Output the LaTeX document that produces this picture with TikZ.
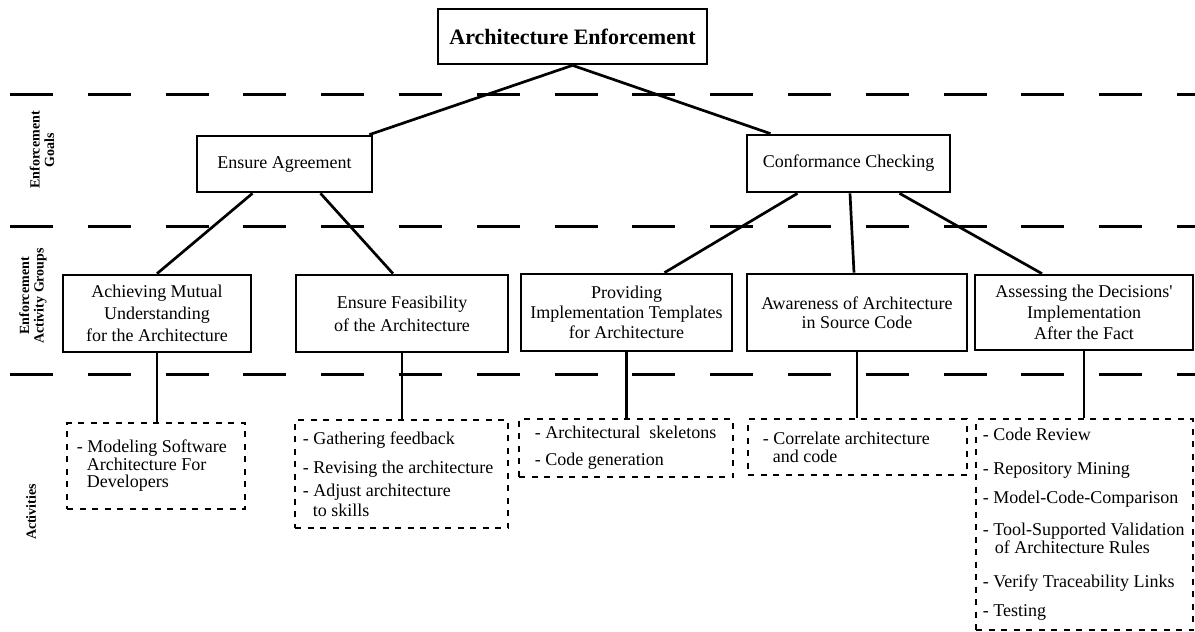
\documentclass[tikz,border=0pt]{standalone}
\usepackage{fontspec}
\setmainfont{Liberation Serif}
\newfontfamily\plainserif{Liberation Serif}
\begin{document}
\begin{tikzpicture}[x=1pt,y=-1pt,
  conn/.style={line width=2.7pt},
  levelsep/.style={line width=3pt, dash pattern=on 43pt off 34.8pt},
  box/.style={draw, line width=2.7pt, align=center, inner sep=0pt,
    font=\fontsize{18}{20}\selectfont},
  actbox/.style={draw, line width=2.7pt, dash pattern=on 6pt off 6.5pt, inner sep=0pt},
  acttext/.style={align=left, inner sep=0pt, anchor=west},
  rowlabel/.style={rotate=90, align=center, inner sep=0pt,
    font=\bfseries\fontsize{14}{14.5}\selectfont}
]
\useasboundingbox (0,0) rectangle (1195,632);

% level separators
\draw[levelsep] (10,94) -- (1195,94);
\draw[levelsep] (10,226) -- (1195,226);
\draw[levelsep] (10,374) -- (1195,374);

% row labels
\node[rowlabel] (lgoals) at (42,150) {Enforcement\\Goals};
\node[rowlabel] (lgroups) at (33,296) {Enforcement\\Activity Groups};
\node[rowlabel] (lact) at (31,512) {Activities};

% root
\node[box, minimum width=269, minimum height=55,
  font=\bfseries\fontsize{22}{24}\selectfont] (top) at (572.5,36.5) {Architecture Enforcement};

% goals
\node[box, minimum width=175, minimum height=56] (ea) at (284.5,164) {Ensure Agreement};
\node[box, minimum width=203, minimum height=57] (cc) at (848.5,163.5) {Conformance Checking};

% activity groups
\node[box, minimum width=188, minimum height=77, font=\fontsize{18}{22}\selectfont] (am) at (157,313.5)
  {Achieving Mutual\\Understanding\\for the Architecture};
\node[box, minimum width=212, minimum height=77, font=\fontsize{18}{23}\selectfont] (ef) at (402,313.5)
  {Ensure Feasibility\\of the Architecture};
\node[box, minimum width=211, minimum height=77] (pi) at (626.5,312.5)
  {Providing\\Implementation Templates\\for Architecture};
\node[box, minimum width=220, minimum height=77, font=\fontsize{18}{19}\selectfont] (aw) at (857,312.5)
  {Awareness of Architecture\\in Source Code};
\node[box, minimum width=218, minimum height=75, font=\fontsize{18}{21}\selectfont] (as) at (1084,312.5)
  {Assessing the Decisions{\plainserif '}\\Implementation\\After the Fact};

% activities
\node[actbox, minimum width=178, minimum height=86] (d1) at (156,466) {};
\node[acttext, font=\fontsize{18}{17.5}\selectfont] (t1) at ([xshift=11pt]d1.west)
  {- Modeling Software\\\hspace*{10pt}Architecture For\\\hspace*{10pt}Developers};

\node[actbox, minimum width=213, minimum height=108] (d2) at (401.5,474) {};
\node[acttext, font=\fontsize{18}{20}\selectfont] (t2) at ([xshift=9pt]d2.west)
  {- Gathering feedback\\[9pt]- Revising the architecture\\[3pt]- Adjust architecture\\\hspace*{10pt}to skills};

\node[actbox, minimum width=214, minimum height=58] (d3) at (626,448) {};
\node[acttext, font=\fontsize{18}{20}\selectfont] (t3) at ([xshift=17pt]d3.west)
  {- Architectural\ \ skeletons\\[7pt]- Code generation};

\node[actbox, minimum width=219, minimum height=56] (d4) at (857.5,447) {};
\node[acttext, font=\fontsize{18}{18}\selectfont] (t4) at ([xshift=16pt]d4.west)
  {- Correlate architecture\\\hspace*{10pt}and code};

\node[actbox, minimum width=217, minimum height=211] (d5) at (1084.5,524.5) {};
\node[acttext, font=\fontsize{18}{18}\selectfont] (t5) at ([xshift=8pt]d5.west)
  {- Code Review\\[16pt]- Repository Mining\\[11pt]- Model-Code-Comparison\\[14pt]- Tool-Supported Validation\\\hspace*{12pt}of Architecture Rules\\[16pt]- Verify Traceability Links\\[11pt]- Testing};

% tree connectors
\draw[conn] (top.south) -- ([xshift=-4pt]ea.north east);
\draw[conn] (top.south) -- ([xshift=-78pt]cc.north);
\draw[conn] ([xshift=-32pt]ea.south) -- (am.north);
\draw[conn] ([xshift=36pt]ea.south) -- ([xshift=-9pt]ef.north);
\draw[conn] ([xshift=-51pt]cc.south) -- ([xshift=38pt]pi.north);
\draw[conn] ([xshift=1.5pt]cc.south) -- ([xshift=-3pt]aw.north);
\draw[conn] ([xshift=51pt]cc.south) -- ([xshift=-42pt]as.north);

\draw[conn] (am.south) -- (am.south |- d1.north);
\draw[conn] (ef.south) -- (ef.south |- d2.north);
\draw[conn] (pi.south) -- (pi.south |- d3.north);
\draw[conn] (aw.south) -- (aw.south |- d4.north);
\draw[conn] (as.south) -- (as.south |- d5.north);
\end{tikzpicture}
\end{document}
